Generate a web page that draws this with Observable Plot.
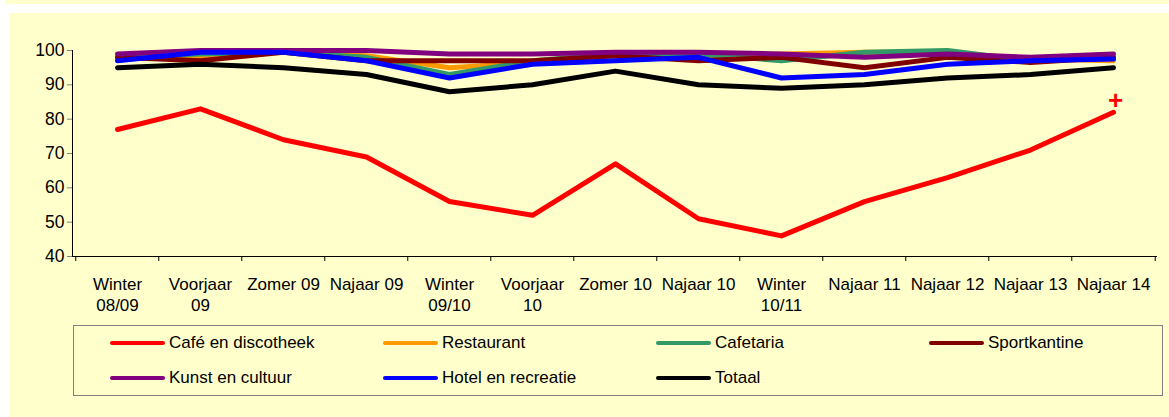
<!DOCTYPE html>
<html>
<head>
<meta charset="utf-8">
<script src="https://cdn.jsdelivr.net/npm/d3@7"></script>
<script src="https://cdn.jsdelivr.net/npm/@observablehq/plot@0.6"></script>
<style>
  html, body { margin: 0; padding: 0; background: #ffffff; width: 1169px; height: 417px; overflow: hidden; }
  body { position: relative; font-family: "Liberation Sans", Arial, sans-serif; }
  #topstrip { position: absolute; left: 6px; top: 0; width: 1163px; height: 4px; background: #FFFFCC; }
  #panel { position: absolute; left: 10px; top: 13px; width: 1159px; height: 404px; background: #FFFFCC; }
  #chart { position: absolute; left: 0; top: -1px; }
  #legend { position: absolute; left: 63px; top: 312px; width: 1090px; height: 71px; border: 1.5px solid #808080; box-sizing: border-box; }
  .item { position: absolute; display: flex; align-items: center; font-size: 17px; color: #000; white-space: nowrap; }
  .swatch { width: 55px; height: 4.5px; border-radius: 3px; margin-right: 4px; }
</style>
</head>
<body>
<div id="topstrip"></div>
<div id="panel">
  <div id="chart"></div>
  <div id="legend"></div>
</div>
<script>
const categories = ["Winter 08/09", "Voorjaar 09", "Zomer 09", "Najaar 09", "Winter 09/10", "Voorjaar 10", "Zomer 10", "Najaar 10", "Winter 10/11", "Najaar 11", "Najaar 12", "Najaar 13", "Najaar 14"];
const tickLabels = ["Winter\n08/09", "Voorjaar\n09", "Zomer 09", "Najaar 09", "Winter\n09/10", "Voorjaar\n10", "Zomer 10", "Najaar 10", "Winter\n10/11", "Najaar 11", "Najaar 12", "Najaar 13", "Najaar 14"];
const yTicks = [40, 50, 60, 70, 80, 90, 100];

const cafeDisco   = [77, 83, 74, 69, 56, 52, 67, 51, 46, 56, 63, 71, 82];
const restaurant  = [98, 98, 99.5, 98.5, 95, 96.5, 98.5, 98, 99, 99.5, 99.5, 97.5, 97];
const cafetaria   = [98, 99, 99.5, 98, 93, 97, 99, 99, 97, 99.5, 100, 97, 98];
const sportkantine= [98, 97, 99.5, 97, 97, 97, 98.5, 97, 98, 95, 98, 96.5, 98];
const kunst       = [99, 100, 100, 100, 99, 99, 99.5, 99.5, 99, 98, 99, 98, 99];
const hotel       = [97, 99.5, 99.5, 97, 92, 96, 97, 98, 92, 93, 96, 97, 97.5];
const totaal      = [95, 96, 95, 93, 88, 90, 94, 90, 89, 90, 92, 93, 95];

const seriesNames  = ["Café en discotheek", "Restaurant", "Cafetaria", "Sportkantine", "Kunst en cultuur", "Hotel en recreatie", "Totaal"];
const seriesValues = [cafeDisco, restaurant, cafetaria, sportkantine, kunst, hotel, totaal];
const seriesColors = ["#FF0000", "#FF9900", "#339966", "#800000", "#800080", "#0000FF", "#000000"];

// significance marker
const markerCats = ["Najaar 14"];
const markerValues = [85.5];
const markerText = ["+"];

const rows = seriesNames.flatMap((name, s) =>
  categories.map((cat, i) => ({ series: name, cat, value: seriesValues[s][i] })));
const markers = markerCats.map((cat, i) => ({ cat, value: markerValues[i], text: markerText[i] }));

const W = 1159, H = 310, mL = 62, mR = 12, mT = 38, mB = 66;
const step = (W - mL - mR) / categories.length;

const chart = Plot.plot({
  width: W, height: H,
  marginLeft: mL, marginRight: mR, marginTop: mT, marginBottom: mB,
  style: { background: "transparent", fontFamily: "'Liberation Sans', Arial, sans-serif", fontSize: "17px", color: "#000", overflow: "visible" },
  x: { type: "point", domain: categories, padding: 0.5, label: null },
  y: { domain: [40, 100], label: null },
  color: { domain: seriesNames, range: seriesColors },
  marks: [
    Plot.frame({ anchor: "left", stroke: "#000" }),
    Plot.ruleY([40], { stroke: "#000" }),
    Plot.axisY({ ticks: yTicks, tickSize: 5, tickPadding: 3, stroke: "#808080", fill: "#000", fontSize: 17.5, label: null }),
    Plot.axisX({ ticks: categories, tickSize: 5, dx: -step / 2, tickFormat: () => "", stroke: "#000", label: null }),
    Plot.axisX({ ticks: categories.slice(-1), tickSize: 5, dx: step / 2, tickFormat: () => "", stroke: "#000", label: null }),
    Plot.axisX({ ticks: categories, tickSize: 0, tickPadding: 19, tickFormat: (d) => tickLabels[categories.indexOf(d)], lineHeight: 1.22, fill: "#000", fontSize: 17, label: null }),
    Plot.line(rows, { x: "cat", y: "value", z: "series", stroke: "series", strokeWidth: 5, strokeLinejoin: "round", strokeLinecap: "round" }),
    Plot.text(markers, { x: "cat", y: "value", text: "text", fill: "#FF0000", fontSize: 26, fontWeight: "bold", dx: 2 })
  ]
});
document.getElementById("chart").appendChild(chart);

// legend
const legend = document.getElementById("legend");
const colX = [36, 309, 582, 855];
const rowY = [17, 52];
seriesNames.forEach((name, i) => {
  const item = document.createElement("div");
  item.className = "item";
  item.style.left = colX[i % 4] + "px";
  item.style.top = (rowY[Math.floor(i / 4)] - 10) + "px";
  item.style.height = "20px";
  const sw = document.createElement("div");
  sw.className = "swatch";
  sw.style.background = seriesColors[i];
  const label = document.createElement("span");
  label.textContent = name;
  item.appendChild(sw);
  item.appendChild(label);
  legend.appendChild(item);
});
</script>
</body>
</html>
